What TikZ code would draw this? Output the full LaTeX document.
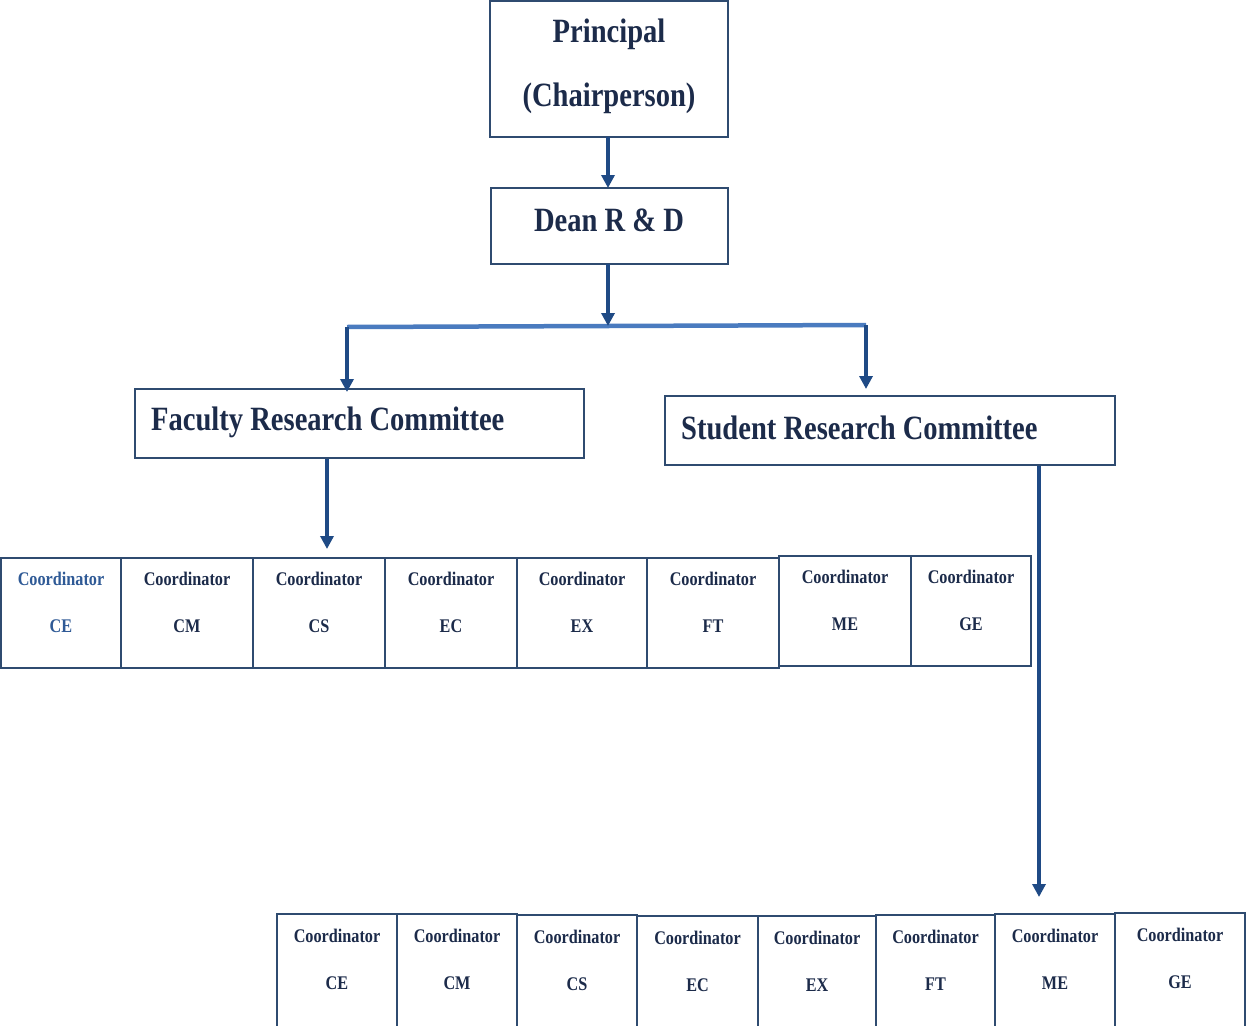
\documentclass[tikz,border=0pt]{standalone}
\usepackage{fontspec}
\setmainfont{Liberation Serif}[FakeStretch=0.84]
\usetikzlibrary{arrows.meta,calc}
\definecolor{txt}{HTML}{1C2B4A}
\definecolor{bord}{HTML}{2F4B70}
\definecolor{arr}{HTML}{1F4A85}
\definecolor{barc}{HTML}{4A7BBF}
\definecolor{blt}{HTML}{2F5A96}
\tikzset{
  box/.style={draw=bord,line width=1.5pt,inner sep=0pt,outer sep=0pt,anchor=north west},
  big/.style={text=txt,font=\fontsize{34}{37}\selectfont\bfseries,inner sep=0pt},
  small/.style={text=txt,font=\fontsize{19.3}{22}\selectfont\bfseries,inner sep=0pt},
  arrow/.style={draw=arr,line width=3.5pt,-{Triangle[length=13pt,width=13pt]}},
  barline/.style={draw=barc,line width=4.5pt}
}
\begin{document}
\begin{tikzpicture}[x=1pt,y=-1pt]
\clip (0,0) rectangle (1246,1025);
\fill[white] (0,0) rectangle (1246,1025);
% top boxes
\node[box,minimum width=238pt,minimum height=136pt] (princ) at (490,1) {};
\node[big] (tp1) at (609,34) {Principal};
\node[big] (tp2) at (609,98) {(Chairperson)};
\node[box,minimum width=237pt,minimum height=76pt] (dean) at (491,188) {};
\node[big] (td) at (609,220) {Dean R \& D};
\node[box,minimum width=449pt,minimum height=69pt] (fac) at (135,389) {};
\node[big,anchor=west] (tf) at (151,422) {Faculty Research Committee};
\node[box,minimum width=450pt,minimum height=69pt] (stu) at (665,396) {};
\node[big,anchor=west] (ts) at (681,428) {Student Research Committee};
% coordinates
\coordinate (bm) at (608,326);
\coordinate (bl) at (347,327);
\coordinate (br) at (866,325);
\coordinate (fa) at (327,459);
\coordinate (fe) at (327,549);
\coordinate (sa) at (1039,466);
\coordinate (se) at (1039,897);
\coordinate (fl) at (347,392);
\coordinate (sl) at (866,389);
% connectors
\draw[arrow] (princ.south -| bm) -- (dean.north -| bm);
\draw[barline] (bl) -- (bm) -- (br);
\draw[arrow] (dean.south -| bm) -- (bm);
\draw[arrow] (bl) -- (fl);
\draw[arrow] (br) -- (sl);
\draw[arrow] (fa) -- (fe);
\draw[arrow] (sa) -- (se);
% row 1
\foreach \a/\b/\t/\c/\col [count=\i] in {1/121/558/CE/blt,121/253/558/CM/txt,253/385/558/CS/txt,385/517/558/EC/txt,517/647/558/EX/txt,647/779/558/FT/txt,779/911/556/ME/txt,911/1031/556/GE/txt}{
  \pgfmathsetmacro{\w}{\b-\a}
  \node[box,minimum width=\w pt,minimum height=110pt] (r1-\i) at (\a,\t) {};
  \node[small,text=\col] (r1a-\i) at ($(\a,\t)+(\w/2,21)$) {Coordinator};
  \node[small,text=\col] (r1b-\i) at ($(\a,\t)+(\w/2,68)$) {\c};
}
% row 2
\foreach \a/\b/\t/\c [count=\i] in {277/397/914/CE,397/517/914/CM,517/637/915/CS,637/758/916/EC,758/876/916/EX,876/995/915/FT,995/1115/914/ME,1115/1245/913/GE}{
  \pgfmathsetmacro{\w}{\b-\a}
  \node[box,minimum width=\w pt,minimum height=120pt] (r2-\i) at (\a,\t) {};
  \node[small] (r2a-\i) at ($(\a,\t)+(\w/2,22)$) {Coordinator};
  \node[small] (r2b-\i) at ($(\a,\t)+(\w/2,69)$) {\c};
}
\end{tikzpicture}
\end{document}
